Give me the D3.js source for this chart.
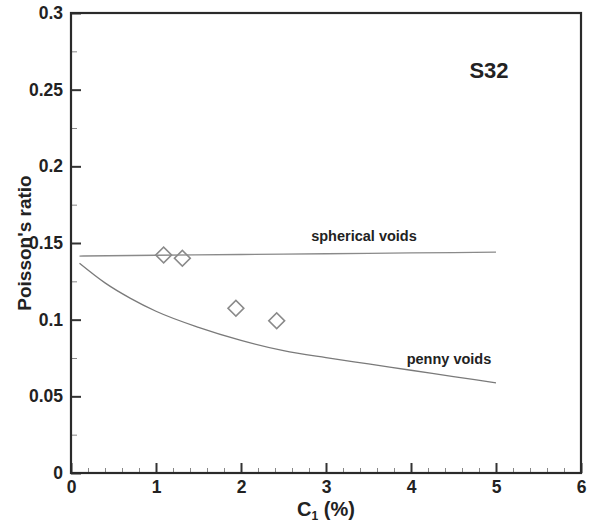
<!DOCTYPE html>
<html>
<head>
<meta charset="utf-8">
<script src="https://cdn.jsdelivr.net/npm/d3@7"></script>
<style>
  html, body { margin: 0; padding: 0; background: #fff; }
  svg { display: block; }
  text { font-family: "Liberation Sans", Arial, Helvetica, sans-serif; font-weight: bold; fill: #222; }
</style>
</head>
<body>
<svg id="chart" width="592" height="526"></svg>
<script>
// ---- data ----
const xTickValues = [0, 1, 2, 3, 4, 5, 6];
const xTickLabels = ["0", "1", "2", "3", "4", "5", "6"];
const yTickValues = [0, 0.05, 0.1, 0.15, 0.2, 0.25, 0.3];
const yTickLabels = ["0", "0.05", "0.1", "0.15", "0.2", "0.25", "0.3"];

const sphericalC = [0.1, 1, 2, 3, 4, 5];
const sphericalNu = [0.1415, 0.1420, 0.1425, 0.1430, 0.1435, 0.1440];

const pennyC  = [0.1, 0.4, 0.7, 1.0, 1.5, 2.0, 2.5, 3.0, 3.5, 4.0, 4.5, 5.0];
const pennyNu = [0.1368, 0.1240, 0.1139, 0.1055, 0.0950, 0.0865, 0.0798, 0.0752, 0.0711, 0.0670, 0.0629, 0.0588];

const measC  = [1.09, 1.31, 1.94, 2.42];
const measNu = [0.1422, 0.1400, 0.1074, 0.0993];

const title = "S32";
const xLabelMain = "C";
const xLabelSub = "1";
const xLabelRest = " (%)";
const yLabel = "Poisson's ratio";
const sphericalLabel = "spherical voids";
const pennyLabel = "penny voids";

// ---- layout ----
const svg = d3.select("#chart");
const mLeft = 71, mRight = 581, mTop = 13, mBottom = 473;
const x = d3.scaleLinear().domain([0, 6]).range([mLeft, mRight]);
const y = d3.scaleLinear().domain([0, 0.3]).range([mBottom, mTop]);

// curves
const lineGen = d3.line().x(d => x(d[0])).y(d => y(d[1])).curve(d3.curveMonotoneX);
svg.append("path")
  .datum(sphericalC.map((c, i) => [c, sphericalNu[i]]))
  .attr("d", lineGen)
  .attr("fill", "none").attr("stroke", "#8a8a8a").attr("stroke-width", 1.3);
svg.append("path")
  .datum(pennyC.map((c, i) => [c, pennyNu[i]]))
  .attr("d", lineGen)
  .attr("fill", "none").attr("stroke", "#7a7a7a").attr("stroke-width", 1.3);

// measured points (hollow diamonds)
const sym = d3.symbol().type(d3.symbolSquare).size(125);
svg.append("g").selectAll("path")
  .data(measC.map((c, i) => [c, measNu[i]]))
  .join("path")
  .attr("d", sym)
  .attr("transform", d => `translate(${x(d[0])},${y(d[1])}) rotate(45)`)
  .attr("fill", "none").attr("stroke", "#8a8a8a").attr("stroke-width", 1.6);

// axes: bottom
const xMinor = d3.range(0, 6.001, 0.2).filter(v => Math.abs(v - Math.round(v)) > 1e-6);
const xAxisMinor = d3.axisBottom(x).tickValues(xMinor).tickSize(-5).tickFormat("");
const xAxis = d3.axisBottom(x).tickValues(xTickValues).tickSize(-10).tickPadding(6)
  .tickFormat((d, i) => xTickLabels[i]);
const gxm = svg.append("g").attr("transform", `translate(0,${mBottom})`).call(xAxisMinor);
gxm.selectAll(".tick line").attr("stroke", "#888").attr("stroke-width", 1);
gxm.select(".domain").remove();
const gx = svg.append("g").attr("transform", `translate(0,${mBottom})`).call(xAxis);
gx.select(".domain").remove();
gx.selectAll(".tick line").attr("stroke", "#333").attr("stroke-width", 2);
gx.selectAll(".tick text").attr("font-size", 17.5).attr("fill", "#222")
  .attr("font-family", "'Liberation Sans', Arial, sans-serif").attr("font-weight", "bold")
  .attr("y", 20).attr("dy", "0");

// axes: left
const yMinor = d3.range(0.025, 0.3, 0.05);
const yAxisMinor = d3.axisLeft(y).tickValues(yMinor).tickSize(-6).tickFormat("");
const yAxis = d3.axisLeft(y).tickValues(yTickValues).tickSize(-10).tickPadding(8)
  .tickFormat((d, i) => yTickLabels[i]);
const gym = svg.append("g").attr("transform", `translate(${mLeft},0)`).call(yAxisMinor);
gym.selectAll(".tick line").attr("stroke", "#888").attr("stroke-width", 1);
gym.select(".domain").remove();
const gy = svg.append("g").attr("transform", `translate(${mLeft},0)`).call(yAxis);
gy.select(".domain").remove();
gy.selectAll(".tick line").attr("stroke", "#333").attr("stroke-width", 2);
gy.selectAll(".tick text").attr("font-size", 17.5).attr("fill", "#222")
  .attr("font-family", "'Liberation Sans', Arial, sans-serif").attr("font-weight", "bold");

// frame
svg.append("rect")
  .attr("x", mLeft).attr("y", mTop)
  .attr("width", mRight - mLeft).attr("height", mBottom - mTop)
  .attr("fill", "none").attr("stroke", "#2a2a2a").attr("stroke-width", 2.2);

// labels
svg.append("text").attr("x", 489).attr("y", 78).attr("text-anchor", "middle")
  .attr("font-size", 22).text(title);

svg.append("text").attr("x", 364).attr("y", 241).attr("text-anchor", "middle")
  .attr("font-size", 14.5).text(sphericalLabel);
svg.append("text").attr("x", 449).attr("y", 364).attr("text-anchor", "middle")
  .attr("font-size", 14.5).text(pennyLabel);

const xl = svg.append("text").attr("x", (mLeft + mRight) / 2).attr("y", 516)
  .attr("text-anchor", "middle").attr("font-size", 20);
xl.append("tspan").text(xLabelMain);
xl.append("tspan").attr("font-size", 12).attr("dy", 4).text(xLabelSub);
xl.append("tspan").attr("dy", -4).text(xLabelRest);

svg.append("text")
  .attr("transform", `translate(31,${(mTop + mBottom) / 2}) rotate(-90)`)
  .attr("text-anchor", "middle").attr("font-size", 19).text(yLabel);
</script>
</body>
</html>
